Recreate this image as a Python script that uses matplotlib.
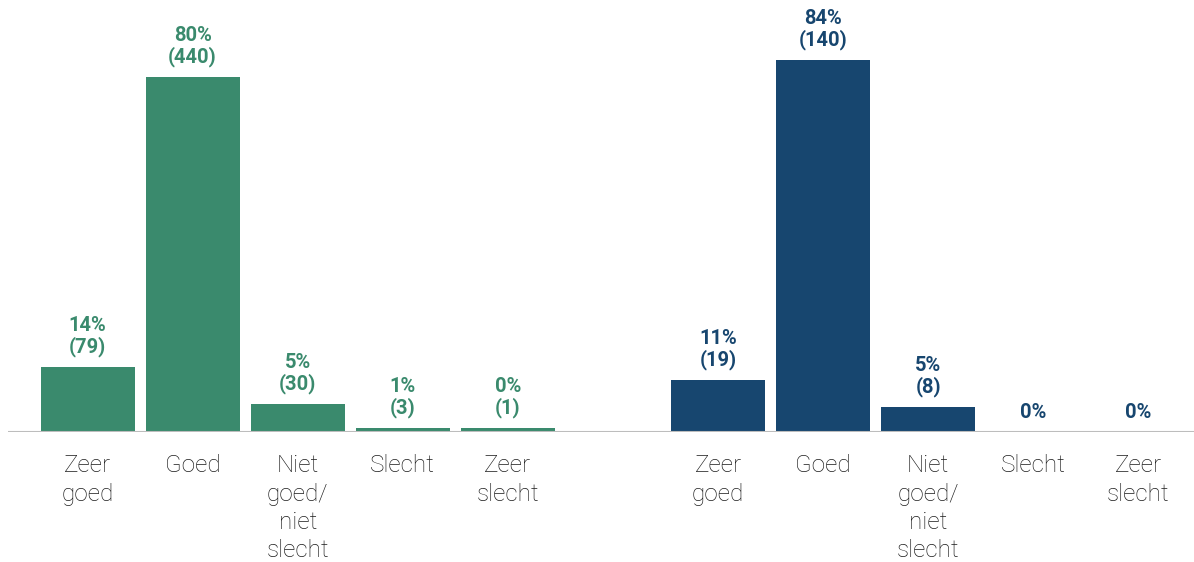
import matplotlib.pyplot as plt

categories = ["Zeer\ngoed", "Goed", "Niet\ngoed/\nniet\nslecht", "Slecht", "Zeer\nslecht"]

green_height = [14.6, 80.0, 6.3, 0.9, 0.9]
green_pct = [14, 80, 5, 1, 0]
green_n = [79, 440, 30, 3, 1]

blue_height = [11.7, 83.8, 5.6, 0.0, 0.0]
blue_pct = [11, 84, 5, 0, 0]
blue_n = [19, 140, 8, None, None]

GREEN = "#3a8a6d"
BLUE = "#17466f"

plt.rcParams["font.family"] = ["Roboto", "DejaVu Sans"]

fig = plt.figure(figsize=(11.94, 5.62), dpi=100)
ax = fig.add_axes([8 / 1194, 130 / 562, 1186 / 1194, 432 / 562])

x_green = list(range(5))
x_blue = [i + 6 for i in range(5)]
width = 0.895

for xs, hs, pcts, ns, col in [
    (x_green, green_height, green_pct, green_n, GREEN),
    (x_blue, blue_height, blue_pct, blue_n, BLUE),
]:
    ax.bar(xs, hs, width=width, color=col)
    for x, h, p, n in zip(xs, hs, pcts, ns):
        lab = f"{p}%" if n is None else f"{p}%\n({n})"
        ax.annotate(lab, (x, h), xytext=(0, 7), textcoords="offset points",
                    ha="center", va="bottom", color=col, fontsize=14.5,
                    fontweight="bold", linespacing=1.1)

ax.set_xlim(-0.757, 10.53)
ax.set_ylim(0, 97.35)
ax.axhline(0, color="#bdbdbd", lw=1.5)

ax.set_xticks(x_green + x_blue)
ax.set_xticklabels(categories * 2, fontsize=17.5, color="#1c1c1c",
                   fontweight="light", linespacing=1.3)
ax.tick_params(axis="x", length=0, pad=16)
ax.set_yticks([])
for s in ax.spines.values():
    s.set_visible(False)

fig.savefig("out.png", dpi=100)
